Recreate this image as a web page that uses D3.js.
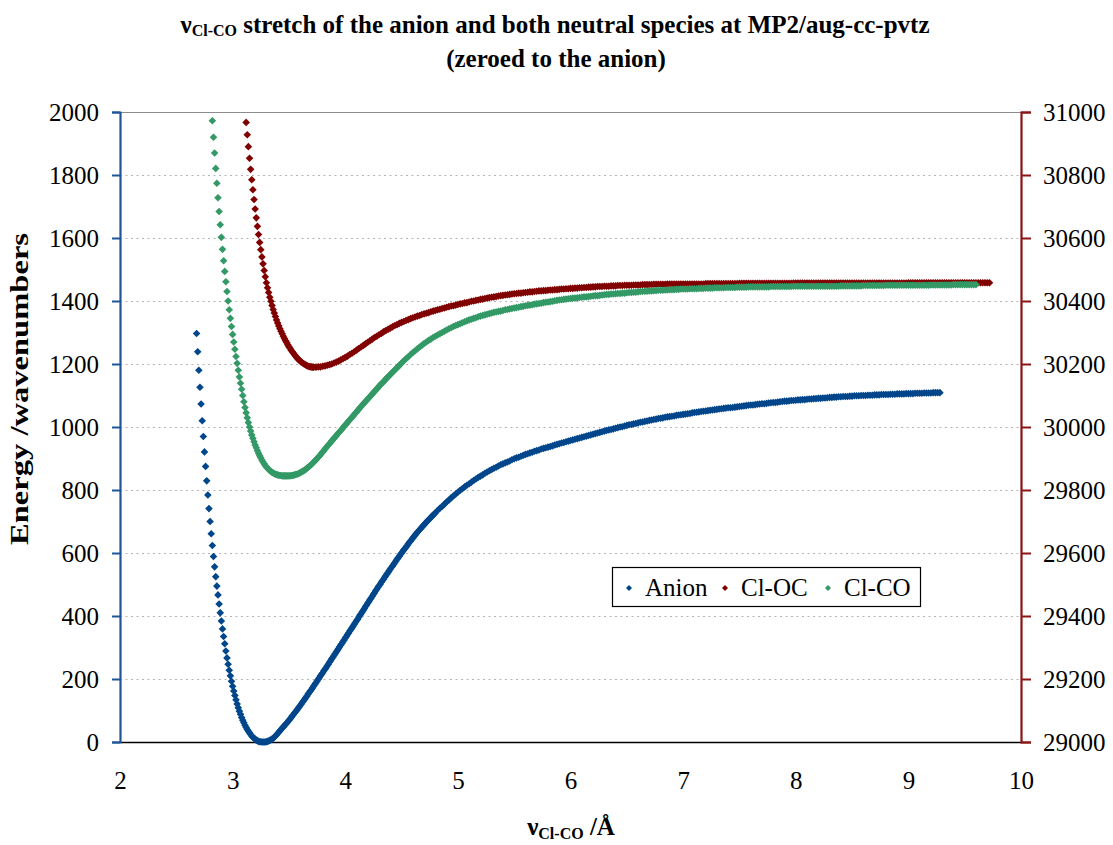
<!DOCTYPE html>
<html lang="en">
<head>
<meta charset="utf-8">
<title>Cl-CO stretch, MP2/aug-cc-pvtz</title>
<script src="https://cdn.jsdelivr.net/npm/d3@7"></script>
<style>
  body { margin: 0; background: #ffffff; }
  svg text { font-family: 'Liberation Serif', 'DejaVu Serif', serif; fill: #000; }
  .chart_title { font-weight: bold; font-size: 25px; }
  .axis_title { font-weight: bold; font-size: 25px; }
  .axis .tick text { font-size: 25px; }
  .legend_label { font-size: 25px; }
</style>
</head>
<body>
<script>
// scan spacing in Angstrom (0.01 where the curves are steep, 0.02 on the flat parts)
var fineStep = 0.01;
var wideStep = 0.02;

// Anion, cm-1 (left axis)
var anionFineStart = 2.68;
var anionFine = [
  1297, 1239,                                                   // 2.68
  1180, 1126, 1073, 1020, 970, 921, 875, 829, 784, 741,         // 2.70
  700, 661, 624, 589, 556, 525, 495, 467, 438, 410,             // 2.80
  384, 359, 335, 312, 289, 267, 247, 228, 210, 193,             // 2.90
  177, 162, 148, 134, 121, 109, 98, 88, 78, 69,                 // 3.00
  61, 53, 46, 40, 34, 29, 24, 19, 15, 12,                       // 3.10
  9, 6, 4, 2, 1, 1, 0, 0, 0, 0,                                 // 3.20
  1, 2, 3, 5, 7, 9, 12, 15, 19, 23,                             // 3.30
  27, 31, 36, 40, 44, 48, 52, 56, 60, 64,                       // 3.40
  69, 73, 78, 83, 87, 92, 97, 101, 106, 111,                    // 3.50
  116, 121, 126, 131, 136, 141, 146, 152, 157, 162,             // 3.60
  167, 172, 178, 183, 188, 194, 199, 204, 210, 215,             // 3.70
  220, 226, 231, 236, 242, 247, 253, 258, 264, 269,             // 3.80
  275, 280, 286, 291, 297, 302, 308, 313, 319, 324,             // 3.90
  330, 335, 341, 346, 352, 357, 363, 368, 374, 379,             // 4.00
  385, 390, 396, 402, 407, 413, 418, 424, 430, 435,             // 4.10
  441, 446, 452, 457, 463, 469, 474, 480, 485, 491,             // 4.20
  496, 501, 507, 512, 517, 523, 528, 533, 538, 544,             // 4.30
  549, 554, 559, 564, 569, 575, 580, 585, 590, 595,             // 4.40
  600, 605, 610, 614, 619, 624, 629, 634, 638, 643,             // 4.50
  648, 652, 657, 661, 666, 670, 674, 678, 682, 686,             // 4.60
  690, 694, 698, 702, 705, 709, 713, 717, 720, 724,             // 4.70
  728                                                           // 4.80
];
var anionWideStart = 4.82;
var anionWide = [
  735, 742, 748, 755, 762, 768, 775, 781, 787, 793,             // 4.82
  799, 804, 810, 815, 820, 825, 830, 835, 840, 844,             // 5.02
  848, 853, 857, 861, 865, 869, 872, 876, 880, 883,             // 5.22
  886, 889, 892, 896, 899, 902, 904, 907, 910, 913,             // 5.42
  915, 918, 920, 923, 925, 927, 930, 932, 934, 936,             // 5.62
  938, 940, 943, 945, 947, 949, 951, 953, 955, 957,             // 5.82
  959, 961, 963, 965, 967, 969, 971, 973, 975, 977,             // 6.02
  979, 981, 983, 985, 987, 989, 991, 992, 994, 996,             // 6.22
  998, 1000, 1001, 1003, 1005, 1007, 1008, 1010, 1011, 1013,    // 6.42
  1015, 1016, 1018, 1019, 1021, 1022, 1024, 1025, 1027, 1028,   // 6.62
  1029, 1031, 1032, 1033, 1034, 1035, 1037, 1038, 1039, 1040,   // 6.82
  1041, 1042, 1043, 1045, 1046, 1047, 1048, 1049, 1050, 1051,   // 7.02
  1052, 1053, 1054, 1055, 1056, 1057, 1058, 1059, 1060, 1061,   // 7.22
  1061, 1062, 1063, 1064, 1065, 1066, 1067, 1068, 1069, 1070,   // 7.42
  1070, 1071, 1072, 1073, 1074, 1074, 1075, 1076, 1077, 1078,   // 7.62
  1078, 1079, 1080, 1081, 1082, 1082, 1083, 1084, 1084, 1085,   // 7.82
  1086, 1086, 1087, 1087, 1088, 1089, 1089, 1090, 1090, 1091,   // 8.02
  1091, 1092, 1092, 1093, 1094, 1094, 1095, 1095, 1096, 1096,   // 8.22
  1097, 1097, 1097, 1098, 1098, 1099, 1099, 1099, 1100, 1100,   // 8.42
  1100, 1101, 1101, 1101, 1102, 1102, 1102, 1103, 1103, 1103,   // 8.62
  1103, 1104, 1104, 1104, 1105, 1105, 1105, 1105, 1106, 1106,   // 8.82
  1106, 1106, 1107, 1107, 1107, 1107, 1108, 1108, 1108, 1108,   // 9.02
  1109, 1109, 1109, 1109                                        // 9.22
];

// Cl-OC, cm-1 (right axis)
var cloFineStart = 3.12;
var cloFine = [
  30967, 30928, 30890, 30853, 30818, 30785, 30753, 30722,                      // 3.12
  30692, 30664, 30637, 30611, 30586, 30563, 30540, 30518, 30497, 30477,        // 3.20
  30458, 30442, 30427, 30412, 30399, 30386, 30373, 30362, 30351, 30340,        // 3.30
  30330, 30321, 30312, 30304, 30296, 30288, 30281, 30274, 30268, 30261,        // 3.40
  30255, 30250, 30244, 30239, 30234, 30229, 30225, 30220, 30216, 30213,        // 3.50
  30209, 30206, 30204, 30201, 30199, 30197, 30195, 30193, 30192, 30191,        // 3.60
  30191, 30190                                                                 // 3.70
];
var cloWideStart = 3.72;
var cloWide = [
  30190, 30190, 30191, 30191, 30193, 30194, 30196, 30198, 30200, 30203,        // 3.72
  30206, 30209, 30213, 30217, 30221, 30225, 30230, 30234, 30239, 30244,        // 3.92
  30249, 30254, 30259, 30264, 30269, 30274, 30279, 30284, 30288, 30293,        // 4.12
  30297, 30302, 30306, 30310, 30314, 30318, 30322, 30325, 30329, 30332,        // 4.32
  30335, 30338, 30341, 30344, 30347, 30349, 30352, 30354, 30357, 30359,        // 4.52
  30361, 30363, 30366, 30368, 30370, 30372, 30374, 30376, 30378, 30380,        // 4.72
  30382, 30384, 30385, 30387, 30389, 30391, 30392, 30394, 30395, 30397,        // 4.92
  30399, 30400, 30402, 30403, 30405, 30406, 30408, 30409, 30411, 30412,        // 5.12
  30413, 30414, 30416, 30417, 30418, 30419, 30420, 30421, 30422, 30423,        // 5.32
  30424, 30425, 30425, 30426, 30427, 30428, 30429, 30429, 30430, 30431,        // 5.52
  30432, 30432, 30433, 30433, 30434, 30435, 30435, 30436, 30436, 30437,        // 5.72
  30438, 30438, 30439, 30439, 30440, 30440, 30441, 30441, 30442, 30442,        // 5.92
  30443, 30443, 30444, 30444, 30445, 30445, 30446, 30446, 30446, 30447,        // 6.12
  30447, 30447, 30448, 30448, 30448, 30449, 30449, 30449, 30450, 30450,        // 6.32
  30450, 30450, 30451, 30451, 30451, 30451, 30452, 30452, 30452, 30452,        // 6.52
  30452, 30453, 30453, 30453, 30453, 30453, 30453, 30454, 30454, 30454,        // 6.72
  30454, 30454, 30454, 30454, 30454, 30454, 30454, 30454, 30454, 30454,        // 6.92
  30454, 30454, 30454, 30454, 30455, 30455, 30455, 30455, 30455, 30455,        // 7.12
  30455, 30455, 30455, 30455, 30455, 30455, 30455, 30455, 30455, 30456,        // 7.32
  30456, 30456, 30456, 30456, 30456, 30456, 30456, 30456, 30456, 30456,        // 7.52
  30456, 30456, 30456, 30456, 30456, 30456, 30456, 30456, 30456, 30456,        // 7.72
  30456, 30456, 30456, 30457, 30457, 30457, 30457, 30457, 30457, 30457,        // 7.92
  30457, 30457, 30457, 30457, 30457, 30457, 30457, 30457, 30457, 30457,        // 8.12
  30457, 30457, 30457, 30457, 30457, 30457, 30457, 30457, 30457, 30457,        // 8.32
  30457, 30457, 30457, 30457, 30457, 30457, 30457, 30457, 30457, 30457,        // 8.52
  30457, 30457, 30457, 30457, 30457, 30457, 30457, 30457, 30457, 30457,        // 8.72
  30457, 30457, 30457, 30457, 30458, 30458, 30458, 30458, 30458, 30458,        // 8.92
  30458, 30458, 30458, 30458, 30458, 30458, 30458, 30458, 30458, 30458,        // 9.12
  30458, 30458, 30458, 30458, 30458, 30458, 30458, 30458, 30458, 30458,        // 9.32
  30458, 30458, 30458, 30458, 30458, 30458, 30458, 30458, 30458, 30458,        // 9.52
  30458                                                                        // 9.72
];

// Cl-CO, cm-1 (left axis)
var clcFineStart = 2.82;
var clcFine = [
  1972, 1920, 1870, 1821, 1774, 1728, 1684, 1642,                   // 2.82
  1602, 1564, 1528, 1494, 1461, 1430, 1400, 1372, 1345, 1319,       // 2.90
  1294, 1270, 1247, 1224, 1202, 1180, 1159, 1139, 1120, 1100,       // 3.00
  1080, 1062, 1045, 1029, 1014, 1000, 987, 975, 964, 953,           // 3.10
  943, 934, 925, 917, 909, 902, 895, 889, 883, 878,                 // 3.20
  873, 869, 865, 862, 859, 856, 854, 852, 850, 849,                 // 3.30
  848, 847, 846, 846, 845, 845, 845, 845, 845, 845,                 // 3.40
  845, 845, 846, 846, 847, 848, 849, 850, 851, 853,                 // 3.50
  855, 857, 859, 861, 863, 866, 869, 872, 875, 878,                 // 3.60
  881, 885, 889, 892, 896, 900, 904, 908, 912, 917,                 // 3.70
  921, 925, 930, 934, 939, 943, 947, 951, 956, 960,                 // 3.80
  964, 968, 972, 977, 981, 985, 989, 993, 998, 1002,                // 3.90
  1006, 1010, 1014, 1019, 1023, 1027, 1031, 1035, 1040, 1044,       // 4.00
  1048, 1052, 1056, 1061, 1065, 1069, 1073, 1077, 1081, 1085,       // 4.10
  1089, 1093, 1097, 1101, 1105, 1109, 1113, 1117, 1121, 1125,       // 4.20
  1129, 1133, 1137, 1140, 1144, 1148, 1152, 1156, 1159, 1163,       // 4.30
  1167, 1170, 1174, 1178, 1181, 1185, 1188, 1192, 1195, 1199,       // 4.40
  1203                                                              // 4.50
];
var clcWideStart = 4.52;
var clcWide = [
  1210, 1217, 1223, 1230, 1236, 1242, 1248, 1254, 1259, 1265,       // 4.52
  1270, 1275, 1279, 1284, 1288, 1292, 1296, 1300, 1304, 1308,       // 4.72
  1312, 1315, 1319, 1322, 1325, 1328, 1331, 1334, 1337, 1340,       // 4.92
  1342, 1345, 1347, 1350, 1352, 1354, 1356, 1358, 1360, 1362,       // 5.12
  1364, 1365, 1367, 1368, 1370, 1372, 1373, 1375, 1376, 1378,       // 5.32
  1379, 1380, 1382, 1383, 1385, 1386, 1387, 1388, 1390, 1391,       // 5.52
  1392, 1393, 1395, 1396, 1397, 1398, 1399, 1401, 1402, 1403,       // 5.72
  1404, 1405, 1406, 1407, 1408, 1409, 1409, 1410, 1411, 1412,       // 5.92
  1413, 1413, 1414, 1415, 1416, 1417, 1417, 1418, 1419, 1420,       // 6.12
  1421, 1421, 1422, 1422, 1423, 1424, 1424, 1425, 1425, 1426,       // 6.32
  1427, 1427, 1428, 1428, 1429, 1430, 1430, 1431, 1431, 1432,       // 6.52
  1432, 1433, 1433, 1434, 1434, 1434, 1435, 1435, 1436, 1436,       // 6.72
  1436, 1437, 1437, 1438, 1438, 1438, 1438, 1439, 1439, 1439,       // 6.92
  1439, 1440, 1440, 1440, 1441, 1441, 1441, 1441, 1442, 1442,       // 7.12
  1442, 1442, 1442, 1443, 1443, 1443, 1443, 1443, 1444, 1444,       // 7.32
  1444, 1444, 1444, 1445, 1445, 1445, 1445, 1445, 1445, 1445,       // 7.52
  1445, 1445, 1445, 1446, 1446, 1446, 1446, 1446, 1446, 1446,       // 7.72
  1446, 1446, 1446, 1447, 1447, 1447, 1447, 1447, 1447, 1447,       // 7.92
  1447, 1447, 1447, 1447, 1447, 1447, 1447, 1447, 1447, 1447,       // 8.12
  1447, 1447, 1447, 1447, 1448, 1448, 1448, 1448, 1448, 1448,       // 8.32
  1448, 1448, 1448, 1448, 1449, 1449, 1449, 1449, 1449, 1449,       // 8.52
  1449, 1449, 1449, 1449, 1450, 1450, 1450, 1450, 1450, 1450,       // 8.72
  1450, 1450, 1450, 1450, 1450, 1450, 1450, 1450, 1450, 1450,       // 8.92
  1450, 1450, 1450, 1450, 1451, 1451, 1451, 1451, 1451, 1451,       // 9.12
  1451, 1451, 1451, 1451, 1452, 1452, 1452, 1452, 1452, 1452,       // 9.32
  1452, 1452, 1452, 1452, 1452                                      // 9.52
];

var xTicks = [2, 3, 4, 5, 6, 7, 8, 9, 10];
var leftTicks = [0, 200, 400, 600, 800, 1000, 1200, 1400, 1600, 1800, 2000];
var rightTicks = [29000, 29200, 29400, 29600, 29800, 30000, 30200, 30400, 30600, 30800, 31000];
var seriesNames = ["Anion", "Cl-OC", "Cl-CO"];
var seriesColors = ["#00468b", "#800000", "#339966"];

var serif = "'Liberation Serif', 'DejaVu Serif', serif";
var svgWidth = 1113;
var svgHeight = 845;
var plotLeft = 120, plotRight = 1021, plotTop = 112, plotBottom = 742;
var markerR = 3.8;

var x = d3.scaleLinear().domain([2, 10]).range([plotLeft, plotRight]);
var yLeft = d3.scaleLinear().domain([0, 2000]).range([plotBottom, plotTop]);
var yRight = d3.scaleLinear().domain([29000, 31000]).range([plotBottom, plotTop]);

function scan(start, step, values) {
  return values.map(function(v, i) {
    return { x: start + i * step, y: v };
  });
}

var anionPts = scan(anionFineStart, fineStep, anionFine).concat(scan(anionWideStart, wideStep, anionWide));
var cloPts = scan(cloFineStart, fineStep, cloFine).concat(scan(cloWideStart, wideStep, cloWide));
var clcPts = scan(clcFineStart, fineStep, clcFine).concat(scan(clcWideStart, wideStep, clcWide));

function diamond(r) {
  return "M0," + (-r) + "L" + r + ",0L0," + r + "L" + (-r) + ",0Z";
}

var svg = d3.select("body").append("svg")
  .attr("width", svgWidth)
  .attr("height", svgHeight)
  .attr("font-family", serif);

// dotted gridlines
svg.append("g")
  .selectAll("line")
  .data(leftTicks.slice(1, -1))
  .enter()
  .append("line")
  .attr("x1", plotLeft)
  .attr("x2", plotRight)
  .attr("y1", function(d) { return Math.round(yLeft(d)) + 0.5; })
  .attr("y2", function(d) { return Math.round(yLeft(d)) + 0.5; })
  .attr("stroke", "#b4b4b4")
  .attr("stroke-width", 1)
  .attr("stroke-dasharray", "2,3.5");

// plot area top border
svg.append("line")
  .attr("x1", plotLeft).attr("x2", plotRight)
  .attr("y1", plotTop + 0.5).attr("y2", plotTop + 0.5)
  .attr("stroke", "#8c8c8c")
  .attr("stroke-width", 1.2);

// x axis: line and labels only
var xAxis = svg.append("g")
  .attr("class", "axis")
  .attr("transform", "translate(0," + plotBottom + ")")
  .call(d3.axisBottom(x).tickValues(xTicks).tickSize(0).tickPadding(29).tickFormat(d3.format("d")));
xAxis.select(".domain").attr("stroke", "#000").attr("stroke-width", 1.4);

// left axis
var leftAxis = svg.append("g")
  .attr("class", "axis")
  .attr("transform", "translate(" + plotLeft + ",0)")
  .call(d3.axisLeft(yLeft).tickValues(leftTicks).tickSize(8).tickPadding(13).tickFormat(d3.format("d")));
leftAxis.select(".domain").attr("stroke", "#1f5699").attr("stroke-width", 2.2);
leftAxis.selectAll(".tick line").attr("stroke", "#1f5699").attr("stroke-width", 2);

// right axis
var rightAxis = svg.append("g")
  .attr("class", "axis")
  .attr("transform", "translate(" + plotRight + ",0)")
  .call(d3.axisRight(yRight).tickValues(rightTicks).tickSize(10).tickPadding(12).tickFormat(d3.format("d")));
rightAxis.select(".domain").attr("stroke", "#8b1414").attr("stroke-width", 2.2);
rightAxis.selectAll(".tick line").attr("stroke", "#8b1414").attr("stroke-width", 2);

svg.selectAll(".axis").attr("font-family", serif).attr("font-size", 25);
svg.selectAll(".axis text").attr("fill", "#000");

// series, same order as drawn in the original (Cl-CO on top)
function drawSeries(pts, yScale, color) {
  svg.append("g")
    .selectAll("path")
    .data(pts)
    .enter()
    .append("path")
    .attr("d", diamond(markerR))
    .attr("transform", function(d) {
      return "translate(" + x(d.x) + "," + yScale(d.y) + ")";
    })
    .attr("fill", color);
}
drawSeries(anionPts, yLeft, seriesColors[0]);
drawSeries(cloPts, yRight, seriesColors[1]);
drawSeries(clcPts, yLeft, seriesColors[2]);

// title
var title = svg.append("text")
  .attr("class", "chart_title")
  .attr("x", 555)
  .attr("y", 33)
  .attr("text-anchor", "middle");
title.append("tspan").text("ν");
title.append("tspan").attr("font-size", "16px").attr("dy", 3).text("Cl-CO");
title.append("tspan").attr("dy", -3).text(" stretch of the anion and both neutral species at MP2/aug-cc-pvtz");

svg.append("text")
  .attr("class", "chart_title")
  .attr("x", 556)
  .attr("y", 67)
  .attr("text-anchor", "middle")
  .text("(zeroed to the anion)");

// x axis title
var xTitle = svg.append("text")
  .attr("class", "axis_title")
  .attr("x", 571)
  .attr("y", 835)
  .attr("text-anchor", "middle");
xTitle.append("tspan").text("ν");
xTitle.append("tspan").attr("font-size", "16px").attr("dy", 4).text("Cl-CO");
xTitle.append("tspan").attr("dy", -4).text(" /Å");

// y axis title
svg.append("text")
  .attr("class", "axis_title")
  .attr("transform", "translate(28,389) rotate(-90)")
  .attr("text-anchor", "middle")
  .attr("textLength", 312)
  .attr("lengthAdjust", "spacingAndGlyphs")
  .text("Energy /wavenumbers");

// legend
var legend = svg.append("g").attr("transform", "translate(612,567)");
legend.append("rect")
  .attr("x", 0.5).attr("y", 0.5)
  .attr("width", 308).attr("height", 39)
  .attr("fill", "#fff")
  .attr("stroke", "#000")
  .attr("stroke-width", 1.2);
var legendX = [17, 113, 216];
var items = legend.selectAll(".legend_item")
  .data(seriesNames)
  .enter()
  .append("g")
  .attr("class", "legend_item")
  .attr("transform", function(d, i) { return "translate(" + legendX[i] + ",21)"; });
items.append("path")
  .attr("d", diamond(3))
  .attr("fill", function(d, i) { return seriesColors[i]; });
items.append("text")
  .attr("class", "legend_label")
  .attr("x", 16)
  .attr("y", 8)
  .text(function(d) { return d; });
</script>
</body>
</html>
